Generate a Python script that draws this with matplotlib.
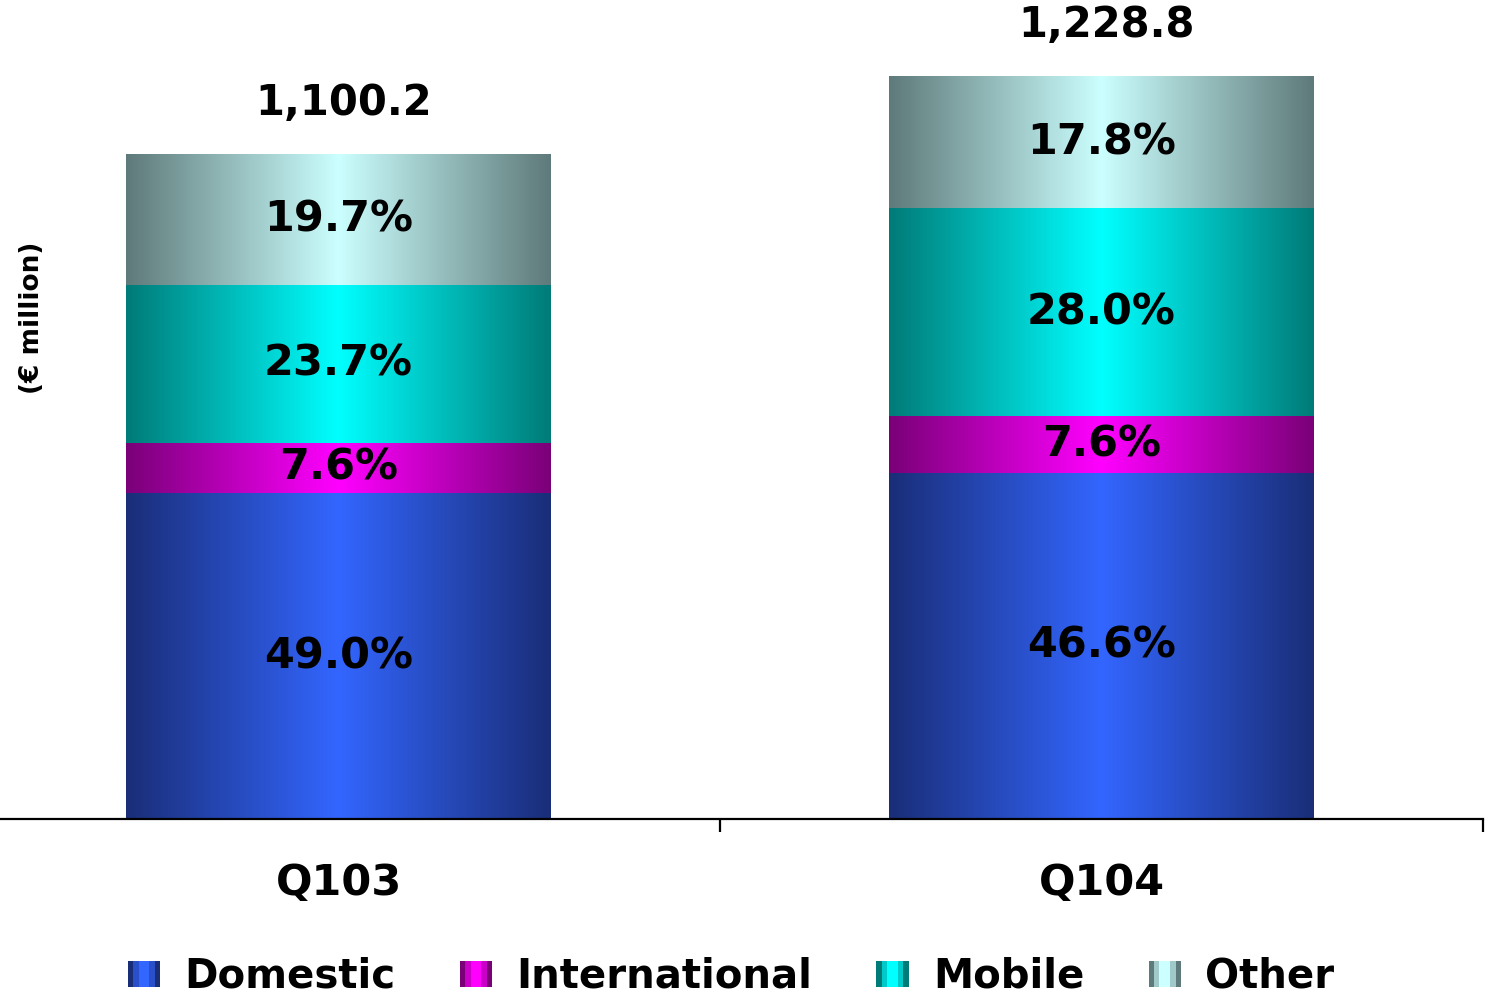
import numpy as np
import matplotlib
matplotlib.use("Agg")
import matplotlib.pyplot as plt
from matplotlib.colors import to_rgb
from matplotlib.patches import Rectangle
from matplotlib.legend_handler import HandlerBase

# data
quarters = ["Q103", "Q104"]
totals = [1100.2, 1228.8]
segments = ["Domestic", "International", "Mobile", "Other"]
shares = {
    "Domestic": [49.0, 46.6],
    "International": [7.6, 7.6],
    "Mobile": [23.7, 28.0],
    "Other": [19.7, 17.8],
}
# (edge colour, centre colour) of the horizontal gradient
gradients = {
    "Domestic": ("#1a2e78", "#3366ff"),
    "International": ("#7a0078", "#ff00ff"),
    "Mobile": ("#007b78", "#00ffff"),
    "Other": ("#5f7a7a", "#ccffff"),
}

plt.rcParams["font.family"] = ["DejaVu Sans"]
plt.rcParams["font.weight"] = "bold"


def gradient_row(edge, centre, n=256):
    e = np.array(to_rgb(edge))
    c = np.array(to_rgb(centre))
    t = np.linspace(0, 1, n)
    f = 1 - np.abs(2 * t - 1)
    return (e[None, :] + (c - e)[None, :] * f[:, None])[None, :, :]


class GradientHandler(HandlerBase):
    def create_artists(self, legend, orig_handle, xdescent, ydescent,
                       width, height, fontsize, trans):
        edge, centre = orig_handle.grad
        widths = [1, 1, 2, 1, 1]
        prof = [0.0, 0.6, 1.0, 0.6, 0.0]
        e = np.array(to_rgb(edge))
        c = np.array(to_rgb(centre))
        total = sum(widths)
        x = -xdescent
        arts = []
        for w, p in zip(widths, prof):
            ww = width * w / total
            r = Rectangle((x, -ydescent), ww, height, facecolor=e + (c - e) * p,
                          edgecolor="none", transform=trans)
            arts.append(r)
            x += ww
        return arts


W, H = 1487, 1001
fig = plt.figure(figsize=(W / 100, H / 100), dpi=100)
ax = fig.add_axes([-43 / W, 182 / H, 1526 / W, 819 / H])

x = np.arange(len(quarters))
bar_w = 0.557
bottom = np.zeros(len(quarters))
for seg in segments:
    vals = np.array(totals) * np.array(shares[seg]) / 100
    bars = ax.bar(x, vals, bar_w, bottom=bottom, facecolor="none",
                  edgecolor="none", zorder=2)
    img = gradient_row(*gradients[seg])
    for b, v, s in zip(bars, vals, shares[seg]):
        x0, y0 = b.get_x(), b.get_y()
        im = ax.imshow(img, extent=[x0, x0 + b.get_width(), y0, y0 + b.get_height()],
                       aspect="auto", interpolation="bilinear", zorder=2)
        im.set_clip_path(b)
        ax.text(b.get_x() + b.get_width() / 2, y0 + v / 2, f"{s:.1f}%",
                ha="center", va="center", fontsize=31, fontweight="bold", zorder=3)
    bottom += vals

for xi, t in zip(x, totals):
    ax.annotate(f"{t:,.1f}", (xi, t), xytext=(4, 28), textcoords="offset points",
                ha="center", va="baseline", fontsize=30, fontweight="bold")

ax.set_xlim(-0.5, 1.5)
ax.set_ylim(0, 1355)
for s in ["top", "right", "left"]:
    ax.spines[s].set_visible(False)
ax.spines["bottom"].set_linewidth(1.6)
ax.set_yticks([])
ax.set_xticks(x)
ax.set_xticklabels(quarters, fontsize=31, fontweight="bold")
ax.tick_params(axis="x", which="major", length=0, pad=31)
ax.set_xticks([0.5, 1.5], minor=True)
ax.tick_params(axis="x", which="minor", length=9, width=1.6, direction="out")

fig.text(32 / W, 1 - 318 / H, "(€ million)", rotation=90, ha="center",
         va="center", fontsize=19, fontweight="bold")

handles = []
for seg in segments:
    h = Rectangle((0, 0), 1, 1)
    h.grad = gradients[seg]
    handles.append(h)
fig.legend(handles, segments, handler_map={h: GradientHandler() for h in handles},
           loc="center", bbox_to_anchor=(731 / W, 1 - 977 / H), ncol=4,
           frameon=False, handlelength=0.8, handleheight=0.6,
           handletextpad=0.6, columnspacing=1.6, borderpad=0,
           prop={"weight": "bold", "size": 29})

fig.savefig("out.png", dpi=100)
